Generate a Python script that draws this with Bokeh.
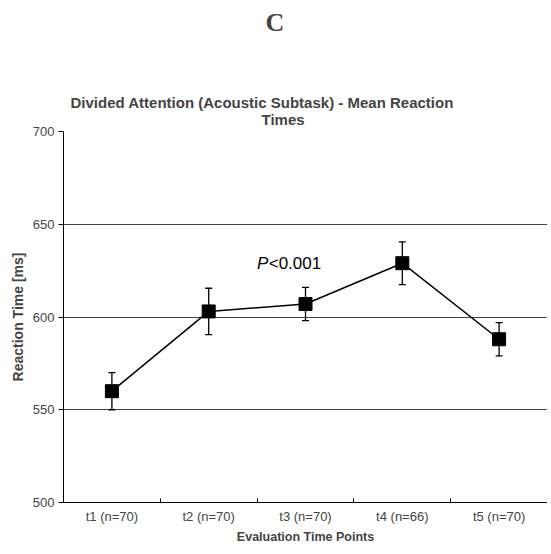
from bokeh.plotting import figure
from bokeh.models import Range1d, FixedTicker, Whisker, TeeHead, ColumnDataSource, Title
from bokeh.core.properties import value
from bokeh.embed import file_html
from bokeh.resources import INLINE

categories = ["t1 (n=70)", "t2 (n=70)", "t3 (n=70)", "t4 (n=66)", "t5 (n=70)"]
means = [560, 603, 607, 629, 588]
errors = [10, 12.5, 9, 11.5, 9]
y_ticks = [500, 550, 600, 650, 700]
grid_values = [550, 600, 650]

xs = [i + 0.5 for i in range(len(categories))]
src = ColumnDataSource(dict(
    x=xs, y=means,
    upper=[m + e for m, e in zip(means, errors)],
    lower=[m - e for m, e in zip(means, errors)],
))

FONT = "Liberation Sans"

p = figure(width=547, height=546, output_backend="svg", toolbar_location=None,
           x_range=Range1d(0, 5), y_range=Range1d(500, 700),
           min_border_left=63, min_border_right=0, min_border_bottom=0, min_border_top=0)
p.title = None
p.outline_line_color = None
p.background_fill_color = "white"
p.border_fill_color = "white"

# titles (added from plot outward)
p.add_layout(Title(text="Times", align="left", offset=198, text_font=FONT,
                   text_font_size="15px", text_font_style="bold", standoff=7), "above")
p.add_layout(Title(text="Divided Attention (Acoustic Subtask) - Mean Reaction", align="left",
                   offset=7, text_font=FONT, text_font_size="15px", text_font_style="bold",
                   standoff=-11), "above")
p.add_layout(Title(text=" ", align="left", text_font=FONT, text_font_size="1px",
                   standoff=53), "above")
p.add_layout(Title(text="C", align="left", offset=202, text_font="Liberation Serif",
                   text_font_size="26px", text_font_style="bold", standoff=10), "above")

# grid
p.xgrid.visible = False
p.ygrid.ticker = FixedTicker(ticks=grid_values)
p.ygrid.grid_line_color = "#444444"
p.ygrid.grid_line_width = 1

# y axis
p.yaxis.ticker = FixedTicker(ticks=y_ticks)
p.yaxis.axis_label = "Reaction Time [ms]"
p.yaxis.axis_label_text_font = FONT
p.yaxis.axis_label_text_font_style = "bold"
p.yaxis.axis_label_text_font_size = "14px"
p.yaxis.axis_label_standoff = 4
p.yaxis.major_label_text_font = FONT
p.yaxis.major_label_text_font_size = "13px"
p.yaxis.major_tick_out = 5
p.yaxis.major_tick_in = 0
p.yaxis.minor_tick_out = 0
p.yaxis.minor_tick_in = 0
p.yaxis.major_label_standoff = 4
p.yaxis.axis_line_color = "black"

# x axis
p.xaxis.ticker = FixedTicker(ticks=xs, minor_ticks=[1, 2, 3, 4])
p.xaxis.major_label_overrides = {x: c for x, c in zip(xs, categories)}
p.xaxis.axis_label = "Evaluation Time Points"
p.xaxis.axis_label_text_font = FONT
p.xaxis.axis_label_text_font_style = "bold"
p.xaxis.axis_label_text_font_size = "12.5px"
p.xaxis.axis_label_standoff = 3
p.xaxis.major_label_text_font = FONT
p.xaxis.major_label_text_font_size = "13px"
p.xaxis.major_tick_out = 0
p.xaxis.major_tick_in = 0
p.xaxis.minor_tick_in = 4
p.xaxis.minor_tick_out = 0
p.xaxis.major_label_standoff = 6
p.xaxis.axis_line_color = "black"

# error bars
wh = Whisker(base="x", upper="upper", lower="lower", source=src,
             line_color="black", line_width=1.3,
             upper_head=TeeHead(size=7, line_color="black", line_width=1.3),
             lower_head=TeeHead(size=7, line_color="black", line_width=1.3))
p.add_layout(wh)

p.line("x", "y", source=src, line_color="black", line_width=1.5)
p.scatter("x", "y", source=src, marker="square", size=13, fill_color="black", line_color="black")

# significance annotation
p.text(x=[2.0], y=[629], text=["P"], text_font=value(FONT), text_font_style="italic",
       text_font_size="17px", text_baseline="middle", text_align="left", text_color="black")
p.text(x=[2.12], y=[629], text=["<0.001"], text_font=value(FONT),
       text_font_size="17px", text_baseline="middle", text_align="left", text_color="black")

open("out.html", "w").write(file_html(p, INLINE))
